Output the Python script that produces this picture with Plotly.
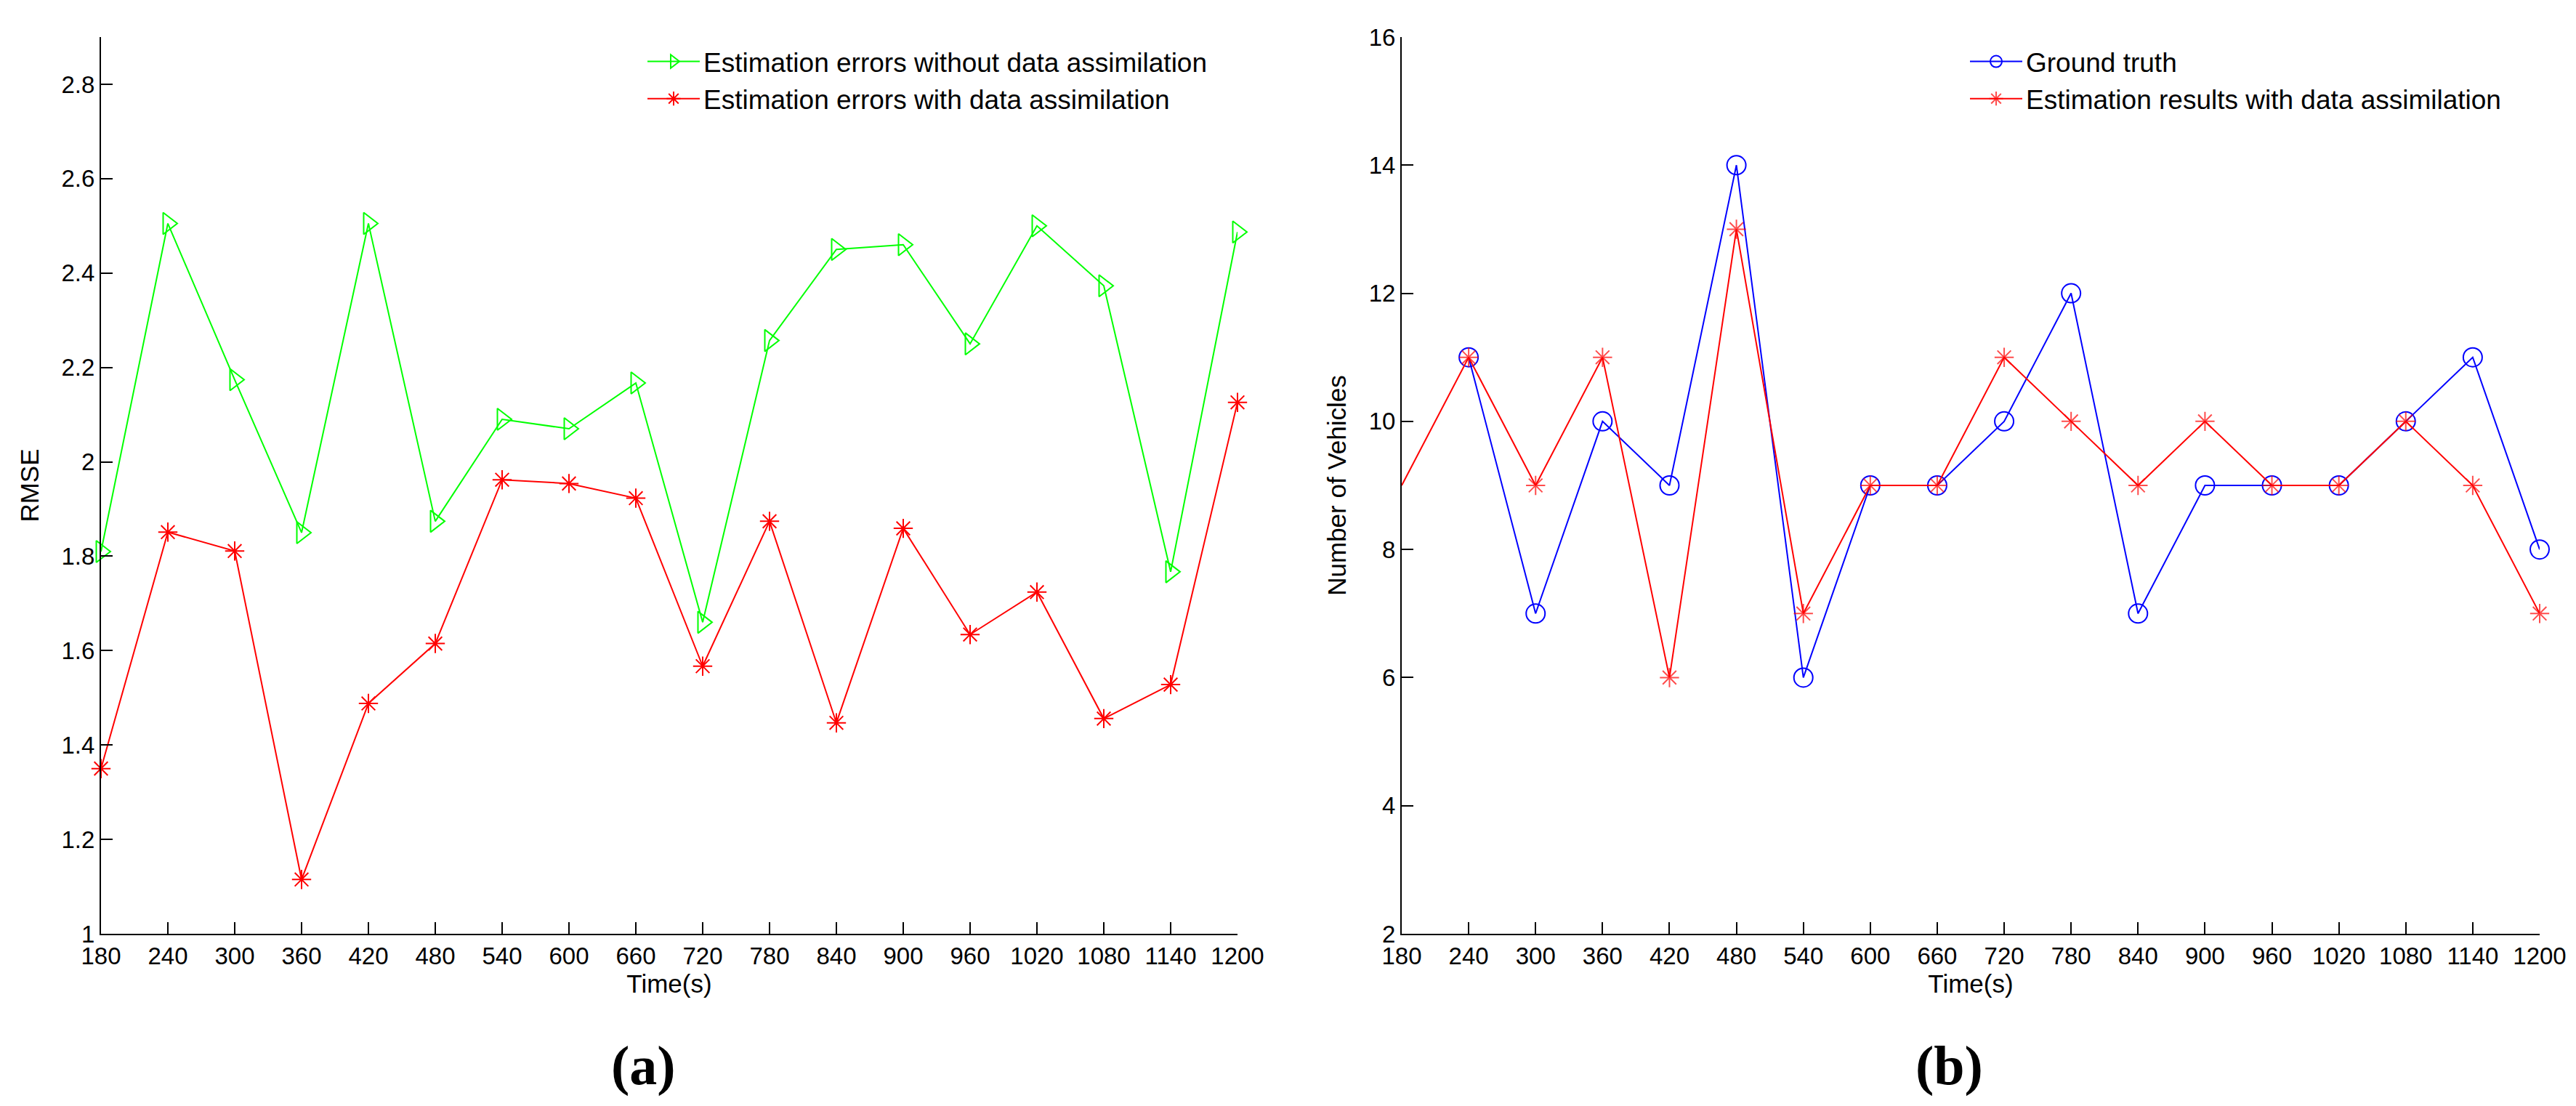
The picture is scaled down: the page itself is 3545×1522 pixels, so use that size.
import plotly.graph_objects as go

time_s = [180, 240, 300, 360, 420, 480, 540, 600, 660, 720, 780, 840, 900, 960, 1020, 1080, 1140, 1200]

rmse_without = [1.81, 2.505, 2.174, 1.85, 2.505, 1.874, 2.09, 2.07, 2.167, 1.66, 2.257, 2.45, 2.46, 2.25, 2.50, 2.373, 1.767, 2.487]
rmse_with = [1.35, 1.851, 1.811, 1.115, 1.488, 1.615, 1.962, 1.954, 1.923, 1.567, 1.874, 1.447, 1.859, 1.634, 1.724, 1.456, 1.528, 2.126]

ground_truth = [None, 11, 7, 10, 9, 14, 6, 9, 9, 10, 12, 7, 9, 9, 9, 10, 11, 8]
estimated = [9, 11, 9, 11, 6, 13, 7, 9, 9, 11, 10, 9, 10, 9, 9, 10, 9, 7]

rmse_ticks = [1, 1.2, 1.4, 1.6, 1.8, 2, 2.2, 2.4, 2.6, 2.8]
rmse_ticktext = ["1", "1.2", "1.4", "1.6", "1.8", "2", "2.2", "2.4", "2.6", "2.8"]
veh_ticks = [2, 4, 6, 8, 10, 12, 14, 16]

W, H = 3545, 1522
ML, MR, MT, MB = 131, 58, 43, 245
PW = W - ML - MR
PH = H - MT - MB

FONT = "Liberation Sans, Arial, sans-serif"

fig = go.Figure()

fig.add_trace(go.Scatter(
    x=time_s, y=rmse_without, mode="lines+markers",
    name="Estimation errors without data assimilation",
    line=dict(color="#00ff00", width=2),
    marker=dict(symbol="triangle-right-open", size=26, color="#00ff00", line=dict(width=2)),
    cliponaxis=False, xaxis="x", yaxis="y", legend="legend"))
fig.add_trace(go.Scatter(
    x=time_s, y=rmse_with, mode="lines+markers",
    name="Estimation errors with data assimilation",
    line=dict(color="#ff0000", width=2),
    marker=dict(symbol="asterisk-open", size=22, color="#ff0000", line=dict(width=2, color="#ff0000")),
    cliponaxis=False, xaxis="x", yaxis="y", legend="legend"))

fig.add_trace(go.Scatter(
    x=time_s, y=ground_truth, mode="lines+markers",
    name="Ground truth",
    line=dict(color="#0000ff", width=2),
    marker=dict(symbol="circle-open", size=26, color="#0000ff", line=dict(width=2)),
    cliponaxis=False, xaxis="x2", yaxis="y2", legend="legend2"))
est_sizes = [0] + [22] * (len(time_s) - 1)
fig.add_trace(go.Scatter(
    x=time_s, y=estimated, mode="lines+markers",
    name="Estimation results with data assimilation",
    line=dict(color="#ff0000", width=2),
    marker=dict(symbol="asterisk-open", size=est_sizes, color="#ff0000", line=dict(width=2, color="#ff0000")),
    cliponaxis=False, xaxis="x2", yaxis="y2", legend="legend2"))

axis_common = dict(
    showline=True, linecolor="black", linewidth=2, mirror=False,
    ticks="inside", ticklen=16, tickwidth=2, tickcolor="black",
    showgrid=False, zeroline=False,
    tickfont=dict(family=FONT, size=33, color="black"),
)
title_font = dict(family=FONT, size=35, color="black")

x_dom_l = [0, (1695 - ML) / PW]
x_dom_r = [(1921 - ML) / PW, 1]

fig.update_layout(
    width=W, height=H,
    margin=dict(l=ML, r=MR, t=MT, b=MB),
    paper_bgcolor="white", plot_bgcolor="white",
    showlegend=True,
    xaxis=dict(domain=x_dom_l, range=[180, 1200], tickvals=time_s, anchor="y",
               title=dict(text="Time(s)", font=title_font, standoff=8),
               **axis_common),
    yaxis=dict(domain=[0, 1], range=[1, 2.9], tickvals=rmse_ticks, ticktext=rmse_ticktext, anchor="x",
               title=dict(text="RMSE", font=title_font, standoff=20),
               **axis_common),
    xaxis2=dict(domain=x_dom_r, range=[180, 1200], tickvals=time_s, anchor="y2",
                title=dict(text="Time(s)", font=title_font, standoff=8),
                **axis_common),
    yaxis2=dict(domain=[0, 1], range=[2, 16], tickvals=veh_ticks, anchor="x2",
                title=dict(text="Number of Vehicles", font=title_font, standoff=20),
                **axis_common),
    legend=dict(x=(878 - ML) / PW, y=(1277 - 46) / PH, xanchor="left", yanchor="top",
                bgcolor="rgba(0,0,0,0)", borderwidth=0, itemwidth=72,
                font=dict(family=FONT, size=37, color="black"), tracegroupgap=0),
    legend2=dict(x=(2698 - ML) / PW, y=(1277 - 46) / PH, xanchor="left", yanchor="top",
                 bgcolor="rgba(0,0,0,0)", borderwidth=0, itemwidth=72,
                 font=dict(family=FONT, size=37, color="black"), tracegroupgap=0),
    annotations=[
        dict(text="<b>(a)</b>", xref="paper", yref="paper", x=(877 - ML) / PW, y=-(1458 - 1277) / PH,
             xanchor="center", yanchor="middle", showarrow=False,
             font=dict(family="Liberation Serif, Times New Roman, serif", size=76, color="black")),
        dict(text="<b>(b)</b>", xref="paper", yref="paper", x=(2674 - ML) / PW, y=-(1458 - 1277) / PH,
             xanchor="center", yanchor="middle", showarrow=False,
             font=dict(family="Liberation Serif, Times New Roman, serif", size=76, color="black")),
    ],
)

fig.write_html("out.html")
